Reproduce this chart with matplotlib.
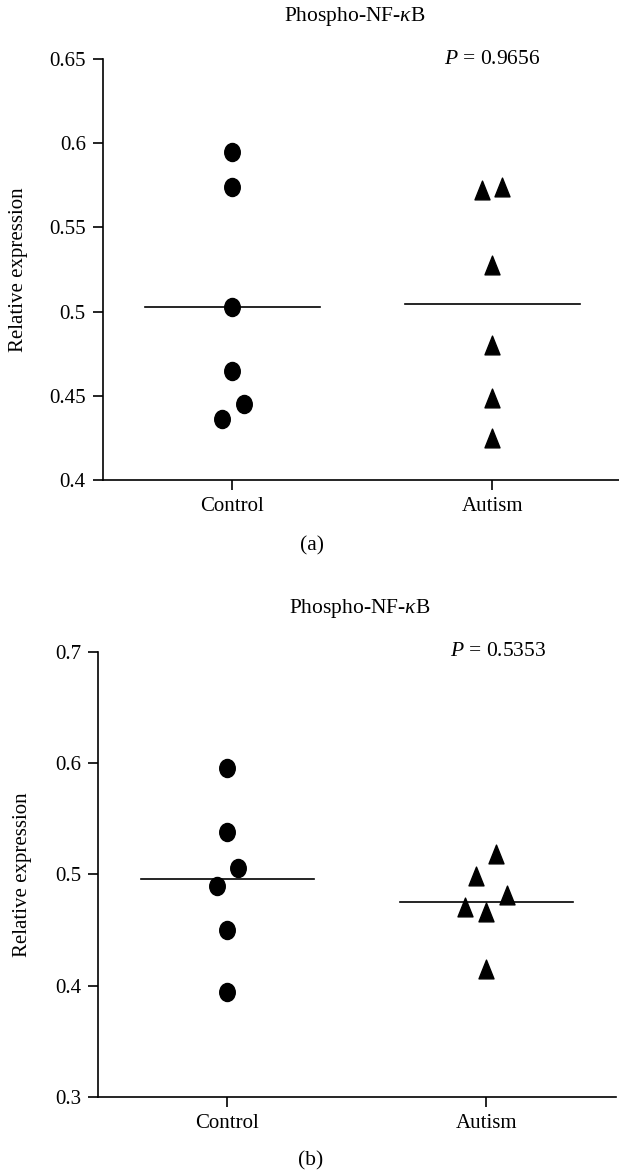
import matplotlib.pyplot as plt
import numpy as np
from matplotlib.path import Path

plt.rcParams['font.family'] = ['Liberation Serif', 'DejaVu Serif']
plt.rcParams['mathtext.fontset'] = 'custom'
plt.rcParams['mathtext.rm'] = 'Liberation Serif'
plt.rcParams['mathtext.it'] = 'Liberation Serif:italic'

#%%Data
groups = ['Control', 'Autism']

# panel (a)
ctrlA = [0.595, 0.574, 0.503, 0.465, 0.445, 0.436]
ctrlAjit = [0, 0, 0, 0, 0.043, -0.041]
autA = [0.572, 0.574, 0.528, 0.480, 0.449, 0.425]
autAjit = [-0.040, 0.038, 0, 0, 0, 0]
yticksA = [0.4, 0.45, 0.5, 0.55, 0.6, 0.65]
ylabelsA = ['0.4', '0.45', '0.5', '0.55', '0.6', '0.65']
pA = '$P$ = 0.9656'

# panel (b)
ctrlB = [0.596, 0.538, 0.506, 0.490, 0.450, 0.394]
ctrlBjit = [0, 0, 0.041, -0.039, 0, 0]
autB = [0.518, 0.499, 0.482, 0.471, 0.466, 0.415]
autBjit = [0.038, -0.041, 0.079, -0.082, 0, 0]
yticksB = [0.3, 0.4, 0.5, 0.6, 0.7]
ylabelsB = ['0.3', '0.4', '0.5', '0.6', '0.7']
pB = '$P$ = 0.5353'

#%%Markers (slightly tall dots and triangles like the original)
circ = Path.unit_circle()
dot = Path(circ.vertices * [0.86, 1.0], circ.codes)
tri = Path([(0, 1), (-0.8, -1), (0.8, -1), (0, 1)],
           [Path.MOVETO, Path.LINETO, Path.LINETO, Path.CLOSEPOLY])

#%%Plotting
fig = plt.figure(figsize=(6.19, 11.72), dpi=100)

axA = fig.add_axes([0.1656, 0.5904, 0.840, 0.3592])
axB = fig.add_axes([0.1583, 0.0640, 0.8368, 0.3797])


def panel(ax, ctrl, cjit, aut, ajit, yt, yl, ptxt, pdx):
    ax.plot(1 + np.array(cjit), ctrl, linestyle='none', marker=dot,
            markersize=13, color='k')
    ax.plot(2 + np.array(ajit), aut, linestyle='none', marker=tri,
            markersize=13.5, color='k')
    # group means
    ax.plot([1 - 0.335, 1 + 0.335], [np.mean(ctrl)] * 2, color='k', lw=1.2)
    ax.plot([2 - 0.335, 2 + 0.335], [np.mean(aut)] * 2, color='k', lw=1.2)

    ax.set_xlim(0.5, 2.5)
    ax.set_ylim(yt[0], yt[-1])
    ax.set_xticks([1, 2])
    ax.set_xticklabels(groups)
    ax.set_yticks(yt)
    ax.set_yticklabels(yl)
    ax.spines['top'].set_visible(False)
    ax.spines['right'].set_visible(False)
    ax.spines['left'].set_linewidth(1.2)
    ax.spines['bottom'].set_linewidth(1.2)
    ax.tick_params(direction='out', length=7, width=1.2, labelsize=15, pad=5)
    ax.set_ylabel('Relative expression', fontsize=15)
    ax.text(2 + pdx, yt[-1], ptxt, ha='center', va='center', fontsize=15.5)


panel(axA, ctrlA, ctrlAjit, autA, autAjit, yticksA, ylabelsA, pA, 0)
panel(axB, ctrlB, ctrlBjit, autB, autBjit, yticksB, ylabelsB, pB, 0.045)

axA.yaxis.set_label_coords(-0.143, 0.5)
axB.yaxis.set_label_coords(-0.127, 0.5)

fig.text(355 / 619, 1 - 17 / 1172, r'Phospho-NF-$\kappa$B', ha='center', va='center', fontsize=15.5)
fig.text(360 / 619, 1 - 609 / 1172, r'Phospho-NF-$\kappa$B', ha='center', va='center', fontsize=15.5)
fig.text(312 / 619, 1 - 546 / 1172, '(a)', ha='center', va='center', fontsize=15.5)
fig.text(311 / 619, 1 - 1161 / 1172, '(b)', ha='center', va='center', fontsize=15.5)

fig.savefig('out.png', dpi=100)
